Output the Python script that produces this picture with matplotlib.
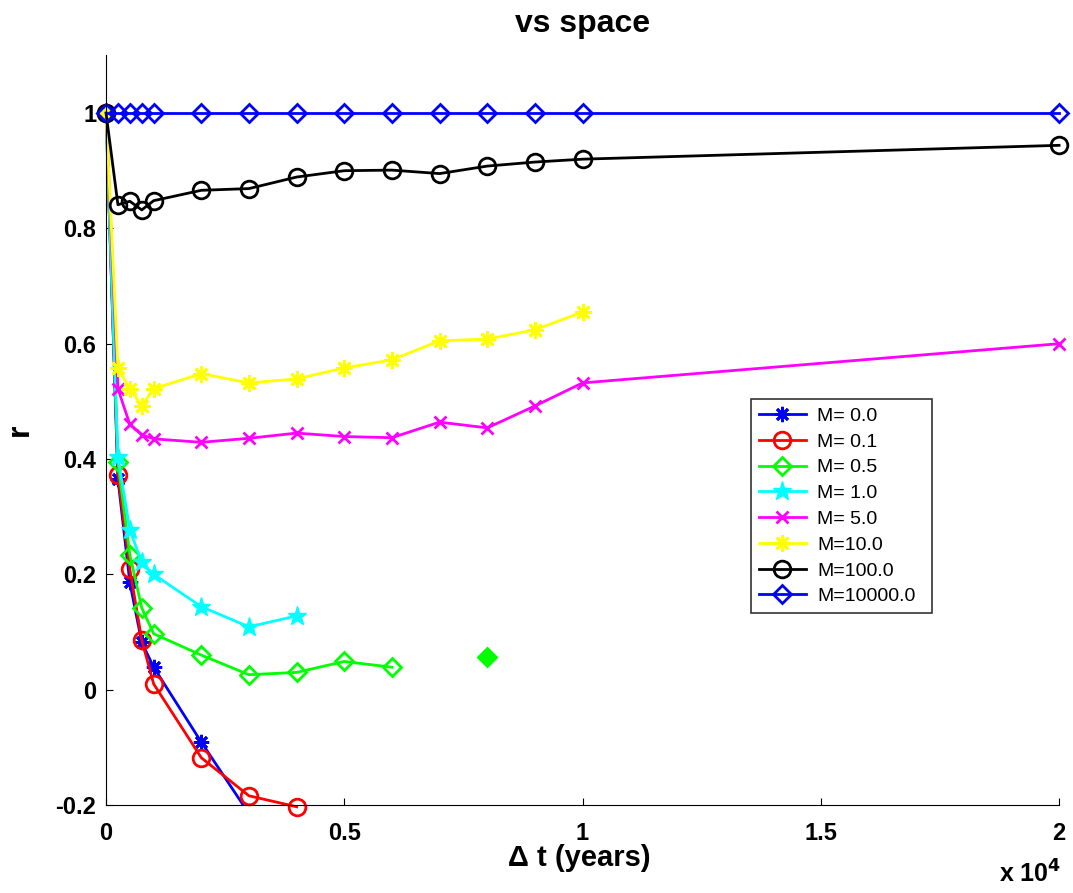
import numpy as np
import matplotlib
matplotlib.use('Agg')
import matplotlib.pyplot as plt

plt.rcParams['font.family'] = ['Liberation Sans', 'DejaVu Sans']

# Lags (years) and correlation values
dt = [0, 250, 500, 750, 1000, 2000, 3000, 4000, 5000, 6000, 7000, 8000, 9000, 10000, 20000]
nan = np.nan

r_m0 = [1.0, 0.366, 0.186, 0.082, 0.039, -0.091, -0.215]
r_m01 = [1.0, 0.373, 0.209, 0.086, 0.010, -0.118, -0.184, -0.203]
r_m05 = [1.0, 0.394, 0.234, 0.142, 0.097, 0.060, 0.026, 0.030, 0.049, 0.039, nan, 0.057]
r_m1 = [1.0, 0.404, 0.277, 0.221, 0.200, 0.144, 0.109, 0.128]
r_m5 = [1.0, 0.522, 0.460, 0.442, 0.435, 0.429, 0.436, 0.445, 0.439, 0.437, 0.464, 0.454, 0.492, 0.532, 0.600]
r_m10 = [1.0, 0.557, 0.522, 0.492, 0.522, 0.548, 0.532, 0.539, 0.558, 0.572, 0.605, 0.608, 0.624, 0.655]
r_m100 = [1.0, 0.841, 0.847, 0.832, 0.848, 0.866, 0.869, 0.889, 0.900, 0.901, 0.895, 0.908, 0.915, 0.920, 0.944]
r_m10000 = [1.0] * 15

labels = ['M= 0.0', 'M= 0.1', 'M= 0.5', 'M= 1.0', 'M= 5.0', 'M=10.0', 'M=100.0', 'M=10000.0']
series = [r_m0, r_m01, r_m05, r_m1, r_m5, r_m10, r_m100, r_m10000]
colors = ['#0000ff', '#ff0000', '#00ff00', '#00ffff', '#ff00ff', '#ffff00', '#000000', '#0000ff']
asterisk = (8, 2, 0)
markers = [asterisk, 'o', 'D', '*', 'x', asterisk, 'o', 'D']
msizes = [11, 12, 9, 14, 8, 12, 12, 9]

fig = plt.figure(figsize=(10.73, 8.93), dpi=100)
ax = fig.add_axes([0.0988, 0.0985, 0.8882, 0.8395])

for ys, lab, c, m, ms in zip(series, labels, colors, markers, msizes):
    xs = dt[:len(ys)]
    ax.plot(xs, ys, color=c, marker=m, markersize=ms, linewidth=2,
            markerfacecolor='none' if m in ('o', 'D') else c,
            markeredgecolor=c, markeredgewidth=2 if m != '*' else 1,
            label=lab, clip_on=(lab == 'M= 0.0'))

# lone M=0.5 point (no neighbours) shows as a filled diamond
ax.plot(dt[11], r_m05[11], marker='D', markersize=8, color='#00ff00',
        linestyle='none')

ax.set_xlim(0, 20000)
ax.set_ylim(-0.2, 1.1)
ax.set_xticks([0, 5000, 10000, 15000, 20000])
ax.set_xticklabels(['0', '0.5', '1', '1.5', '2'])
ax.set_yticks([-0.2, 0, 0.2, 0.4, 0.6, 0.8, 1.0])
ax.set_yticklabels(['-0.2', '0', '0.2', '0.4', '0.6', '0.8', '1'])
ax.tick_params(direction='in', length=5, labelsize=17)
ax.tick_params(axis='x', pad=12)
ax.tick_params(axis='y', pad=7)
for t in ax.get_xticklabels() + ax.get_yticklabels():
    t.set_fontweight('bold')
ax.spines['top'].set_visible(False)
ax.spines['right'].set_visible(False)

ax.text(0.5, 1.031, 'vs space', transform=ax.transAxes, fontsize=23,
        fontweight='bold', ha='center', va='baseline')
ax.text(0.497, -0.0813, '\u0394 t (years)', transform=ax.transAxes, fontsize=21,
        fontweight='bold', ha='center', va='baseline')
ax.text(-0.09, 0.5, 'r', transform=ax.transAxes, fontsize=23, fontweight='bold',
        ha='center', va='center', rotation=90)
fig.text(0.96, 0.006, 'x 10$^{\\mathbf{4}}$', fontsize=18, fontweight='bold',
         ha='center', va='bottom')

leg = ax.legend(loc='upper left', bbox_to_anchor=(0.677, 0.541, 0.19, 0.0),
                mode='expand', fontsize=14, frameon=True, fancybox=False,
                borderaxespad=0, handlelength=2.4, labelspacing=0.42,
                borderpad=0.4, handletextpad=0.6)
leg.get_frame().set_edgecolor('black')
leg.get_frame().set_linewidth(1.2)

fig.savefig('out.png', dpi=100)
